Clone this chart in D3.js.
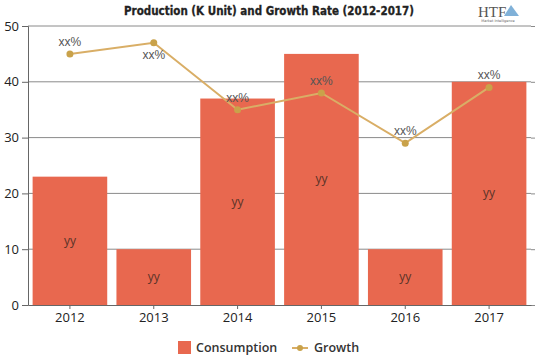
<!DOCTYPE html>
<html><head><meta charset="utf-8">
<script src="https://cdn.jsdelivr.net/npm/d3@7"></script>
<style>body{margin:0;background:#fff}svg{display:block}</style>
</head><body>
<svg id="c" width="539" height="359"></svg>
<script>
const categories = ["2012","2013","2014","2015","2016","2017"];
const consumption = [23, 10, 37, 45, 10, 40];
const growth = [45, 47, 35, 38, 29, 39];
const barLabels = ["yy","yy","yy","yy","yy","yy"];
const growthLabels = ["xx%","xx%","xx%","xx%","xx%","xx%"];
const yTicks = [0,10,20,30,40,50];

const svg = d3.select("#c");
const m = {l:28, r:8, t:26, b:54};
const W = 539, H = 359;
const x = d3.scaleBand().domain(categories).range([m.l, W - m.r]).paddingInner(0.11).paddingOuter(0.055);
const y = d3.scaleLinear().domain([0,50]).range([H - m.b, m.t]);

svg.append("g").selectAll("line").data(yTicks.filter(d=>d>0)).join("line")
  .attr("x1", m.l).attr("x2", W - m.r)
  .attr("y1", d=>y(d)).attr("y2", d=>y(d))
  .attr("stroke", "#8a8a8a").attr("stroke-width", 1);

svg.append("g").selectAll("rect").data(categories).join("rect")
  .attr("x", d=>x(d)).attr("width", x.bandwidth())
  .attr("y", (d,i)=>y(consumption[i])).attr("height", (d,i)=>y(0)-y(consumption[i]))
  .attr("fill", "#E8684F");

const yAxis = svg.append("g").attr("transform", `translate(${m.l},0)`)
  .call(d3.axisLeft(y).tickValues(yTicks).tickSize(6).tickPadding(3));
yAxis.select(".domain").attr("stroke", "#666");
yAxis.selectAll(".tick line").attr("stroke", "#666");
yAxis.selectAll("text").attr("font-family", "Open Sans, sans-serif").attr("font-size", 13).attr("fill", "#222");

const yAxisR = svg.append("g").attr("transform", `translate(${W - m.r},0)`)
  .call(d3.axisRight(y).tickValues(yTicks).tickSize(4).tickFormat(""));
yAxisR.select(".domain").remove();
yAxisR.selectAll(".tick line").attr("stroke", "#8a8a8a");

const xAxis = svg.append("g").attr("transform", `translate(0,${y(0)})`)
  .call(d3.axisBottom(x).tickSize(4).tickPadding(4).tickSizeOuter(0));
xAxis.select(".domain").attr("stroke", "#666");
xAxis.selectAll(".tick line").attr("stroke", "#666");
xAxis.selectAll("text").attr("font-family", "Open Sans, sans-serif").attr("font-size", 13).attr("fill", "#222");

svg.append("g").selectAll("text").data(categories).join("text")
  .attr("x", d=>x(d)+x.bandwidth()/2)
  .attr("y", (d,i)=>(y(consumption[i])+y(0))/2 + 4)
  .attr("text-anchor","middle")
  .attr("font-family","Open Sans, sans-serif").attr("font-size",12).attr("fill","#5a3328")
  .text((d,i)=>barLabels[i]);

const cx = d=>x(d)+x.bandwidth()/2;
svg.append("path").datum(categories)
  .attr("d", d3.line().x(d=>cx(d)).y((d,i)=>y(growth[i])))
  .attr("fill","none").attr("stroke","#D9AE66").attr("stroke-width",2);
svg.append("g").selectAll("circle").data(categories).join("circle")
  .attr("cx", cx).attr("cy", (d,i)=>y(growth[i])).attr("r", 3.5)
  .attr("fill","#C9A24A");
svg.append("g").selectAll("text").data(categories).join("text")
  .attr("x", cx)
  .attr("y", (d,i)=> growth[i] > 46 ? y(growth[i]) + 16 : y(growth[i]) - 8)
  .attr("text-anchor","middle")
  .attr("font-family","Liberation Sans, Arial, sans-serif").attr("font-size",12).attr("fill","#555")
  .text((d,i)=>growthLabels[i]);

svg.append("text").attr("x", 269).attr("y", 15).attr("text-anchor","middle")
  .attr("font-family","DejaVu Sans Condensed, Liberation Sans Narrow, sans-serif")
  .attr("font-weight","bold").attr("font-size",13).attr("fill","#222")
  .attr("stroke","#222").attr("stroke-width",0.3)
  .attr("textLength", 290).attr("lengthAdjust","spacingAndGlyphs")
  .text("Production (K Unit) and Growth Rate (2012-2017)");

svg.append("text").attr("x", 478).attr("y", 17)
  .attr("font-family","Liberation Serif, serif").attr("font-size",15).attr("fill","#555").text("HTF");
svg.append("path").attr("d","M504 16 L511 5 L519 16 Z").attr("fill","#4a90c8").attr("opacity",0.7);
svg.append("text").attr("x", 498).attr("y", 22).attr("text-anchor","middle")
  .attr("font-family","DejaVu Sans, sans-serif").attr("font-size",3.5).attr("fill","#666").text("Market Intelligence");

const lg = svg.append("g").attr("font-family","Open Sans, sans-serif").attr("font-size",12.5).attr("font-weight",600).attr("fill","#333");
lg.append("rect").attr("x",178).attr("y",341).attr("width",13).attr("height",13).attr("fill","#E8684F");
lg.append("text").attr("x",196).attr("y",352).text("Consumption");
lg.append("line").attr("x1",292).attr("x2",308).attr("y1",348).attr("y2",348).attr("stroke","#D9AE66").attr("stroke-width",2);
lg.append("circle").attr("cx",300).attr("cy",348).attr("r",3).attr("fill","#C9A24A");
lg.append("text").attr("x",314).attr("y",352).text("Growth");
</script>
</body></html>
